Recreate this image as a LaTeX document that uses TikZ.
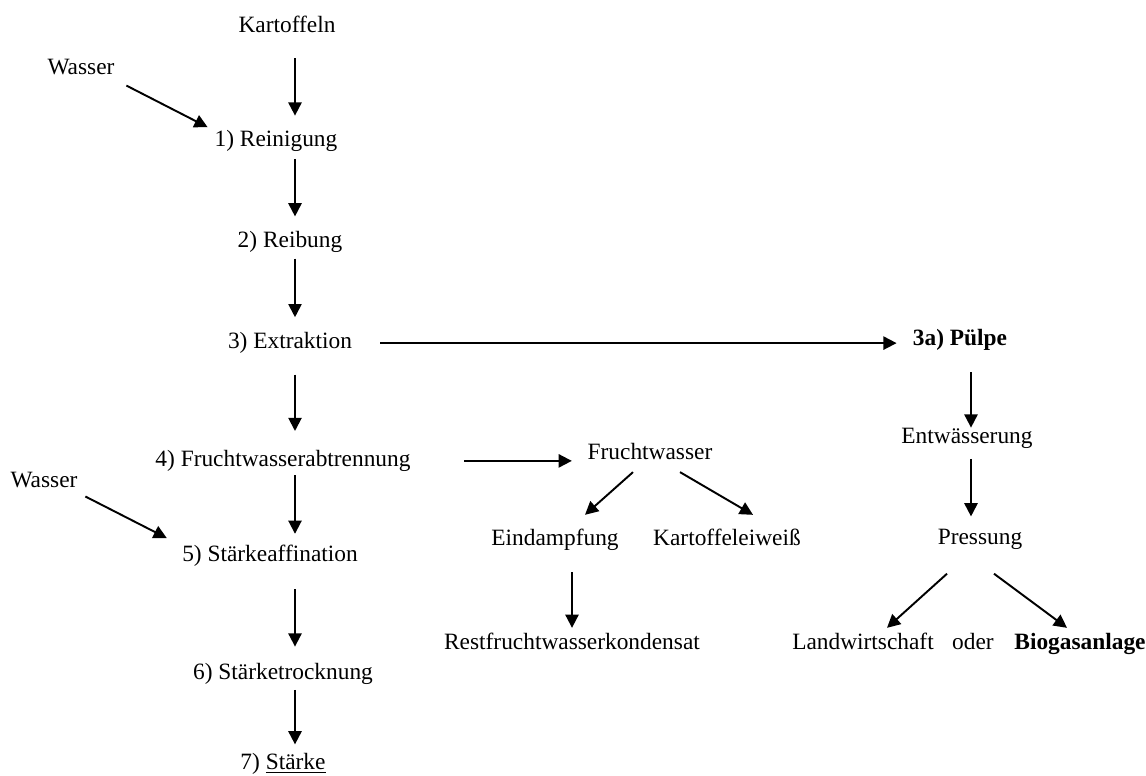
\documentclass[tikz,border=0pt]{standalone}
\usepackage{fontspec}
\setmainfont{Liberation Serif}
\usetikzlibrary{arrows.meta, positioning}

\begin{document}
\begin{tikzpicture}[
  node distance=1.5cm,
  every node/.style={font=\fontsize{13.3}{16}\selectfont},
  stage/.style={inner sep=0pt, text height=9pt, text depth=3pt},
  arrow/.style={-{Triangle[length=7.5pt, width=7.5pt]}, line width=1.1pt},
]
\useasboundingbox (0,0) rectangle (22.92,-15.5);

% Main line — potatoes to starch
\node[stage, anchor=base] (kart) at (5.74,-0.64) {Kartoffeln};
\node[stage, below=1.86cm of kart, xshift=-0.22cm] (rein) {1) Reinigung};
\node[stage, below=1.58cm of rein, xshift=0.28cm]  (reib) {2) Reibung};
\node[stage, below=1.58cm of reib]                 (extr) {3) Extraktion};
\node[stage, below=1.92cm of extr, xshift=-0.14cm] (frab) {4) Fruchtwasserabtrennung};
\node[stage, below=1.48cm of frab, xshift=-0.26cm] (staf) {5) Stärkeaffination};
\node[stage, below=1.92cm of staf, xshift=0.26cm]  (stro) {6) Stärketrocknung};
\node[stage, below=1.36cm of stro]                 (star) {7) \underline{Stärke}};

% Water inputs
\node[stage, anchor=base] (wasA) at (1.62,-1.48) {Wasser};
\node[stage, anchor=base] (wasB) at (0.88,-9.74) {Wasser};

% Fruit water branch
\node[stage, anchor=base] (fw)   at (13.0,-9.18)  {Fruchtwasser};
\node[stage, anchor=base] (eind) at (11.1,-10.9)  {Eindampfung};
\node[stage, anchor=base] (eiw)  at (14.54,-10.9) {Kartoffeleiweiß};
\node[stage, anchor=base] (rest) at (11.44,-12.98) {Restfruchtwasserkondensat};

% Pulp branch
\node[stage, anchor=base] (pulp) at (19.2,-6.9) {\textbf{3a) Pülpe}};
\node[stage, below=1.54cm of pulp, xshift=0.14cm] (entw) {Entwässerung};
\node[stage, below=1.58cm of entw, xshift=0.26cm] (pres) {Pressung};
\node[stage, anchor=base] (land) at (17.26,-12.98) {Landwirtschaft};
\node[stage, anchor=base] (oder) at (19.46,-12.98) {oder};
\node[stage, anchor=base] (biog) at (21.6,-12.98)  {\textbf{Biogasanlage}};

\coordinate (spine)  at (5.9,0);
\coordinate (spineb) at (19.42,0);

% Arrows — main line
\draw[arrow, shorten <=0.41cm, shorten >=0.30cm] (kart.south -| spine) -- (rein.north -| spine);
\draw[arrow, shorten <=0.13cm, shorten >=0.30cm] (rein.south -| spine) -- (reib.north -| spine);
\draw[arrow, shorten <=0.11cm, shorten >=0.30cm] (reib.south -| spine) -- (extr.north -| spine);
\draw[arrow, shorten <=0.41cm, shorten >=0.38cm] (extr.south -| spine) -- (frab.north -| spine);
\draw[arrow, shorten <=0.07cm, shorten >=0.24cm] (frab.south -| spine) -- (staf.north -| spine);
\draw[arrow, shorten <=0.43cm, shorten >=0.34cm] (staf.south -| spine) -- (stro.north -| spine);
\draw[arrow, shorten <=0.09cm, shorten >=0.18cm] (stro.south -| spine) -- (star.north -| spine);

% Water in
\draw[arrow, shorten <=0.26cm, shorten >=0.15cm] (wasA.south east) -- (rein.north west);
\draw[arrow, shorten <=0.17cm, shorten >=0.34cm] (wasB.south east) -- (staf.north west);

% Side streams
\draw[arrow, shorten <=0.56cm, shorten >=0.32cm] (extr.east) -- (extr.east -| pulp.west);
\draw[arrow, shorten <=1.07cm, shorten >=0.31cm] (frab.east) -- (frab.east -| fw.west);

% Fruit water
\draw[arrow] ([shift={(-0.34,-0.15)}]fw.south) -- ([shift={(0.6,0.28)}]eind.north);
\draw[arrow] ([shift={(0.6,-0.15)}]fw.south) -- ([shift={(0.52,0.28)}]eiw.north);
\draw[arrow, shorten <=0.43cm, shorten >=0.10cm] (eind.south -| rest.north) -- (rest.north);

% Pulp
\draw[arrow, shorten <=0.43cm] (pulp.south -| spineb) -- (entw.north -| spineb);
\draw[arrow, shorten <=0.19cm, shorten >=0.24cm] (entw.south -| spineb) -- (pres.north -| spineb);
\draw[arrow] ([shift={(-0.66,-0.47)}]pres.south) -- ([shift={(0.48,0.10)}]land.north);
\draw[arrow] ([shift={(0.28,-0.47)}]pres.south) -- ([shift={(-0.26,0.10)}]biog.north);

\end{tikzpicture}
\end{document}
